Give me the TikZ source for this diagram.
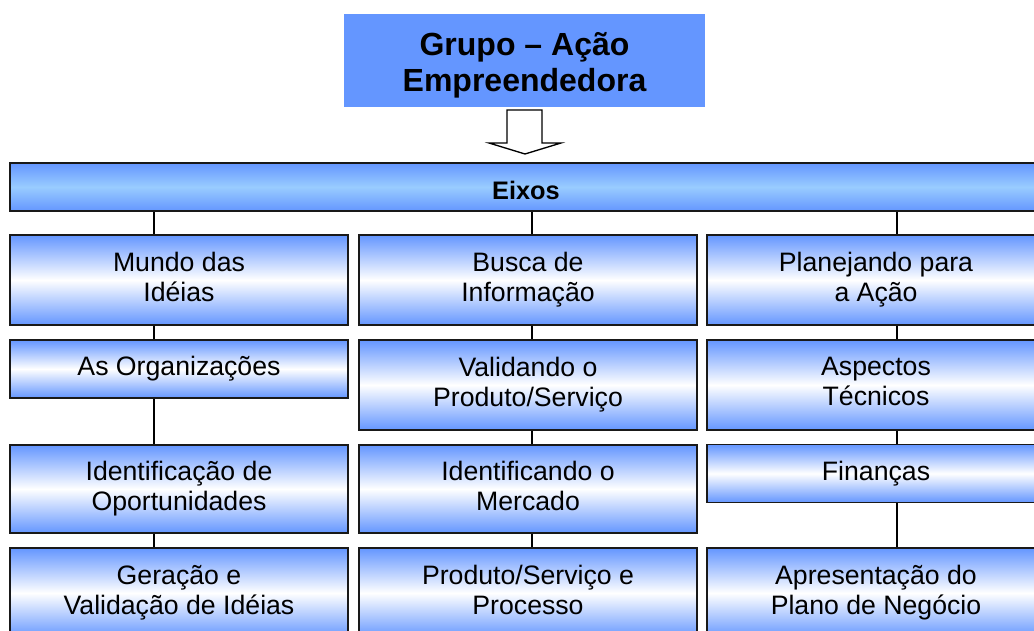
\documentclass[tikz,border=0pt]{standalone}
\usepackage{fontspec}
\setmainfont{Liberation Sans}
\definecolor{azul}{RGB}{100,150,255}
\definecolor{azulclaro}{RGB}{153,204,255}
\definecolor{borda}{RGB}{25,25,25}
\begin{document}
\begin{tikzpicture}[x=0.75pt, y=-0.75pt, line width=0.9pt,
  caixa/.style={draw=borda, line width=1.3pt, top color=azul, bottom color=azul, middle color=white,
    minimum width=253pt, minimum height=67.5pt, inner sep=0pt, align=center, text depth=5pt,
    font=\fontsize{20}{22.5}\selectfont},
  baixa/.style={minimum height=43.5pt, text depth=4pt}]
\useasboundingbox (0,0) rectangle (1034,631);
\clip (0,0) rectangle (1034,631);
% Nodos
\node [fill=azul, minimum width=270.75pt, minimum height=69.75pt, align=center, text height=51pt,
  font=\fontsize{24}{27}\selectfont\bfseries] (grupo) at (524.5,60.5) {Grupo – Ação\\Empreendedora};
\node [caixa, top color=azul, bottom color=azul, middle color=azulclaro, minimum width=774pt,
  minimum height=36pt, text height=18pt, text depth=0pt,
  font=\fontsize{19}{22}\selectfont\bfseries] (eixos) at (526,187) {Eixos};

\node [caixa] (A1) at (179,280) {Mundo das\\Idéias};
\node [caixa, baixa] (A2) at (179,369) {As Organizações};
\node [caixa, minimum height=66pt] (A3) at (179,489) {Identificação de\\Oportunidades};
\node [caixa] (A4) at (179,593) {Geração e\\Validação de Idéias};

\node [caixa] (B1) at (528,280) {Busca de\\Informação};
\node [caixa] (B2) at (528,385) {Validando o\\Produto/Serviço};
\node [caixa, minimum height=66pt] (B3) at (528,489) {Identificando o\\Mercado};
\node [caixa] (B4) at (528,593) {Produto/Serviço e\\Processo};

\node [caixa] (C1) at (876,280) {Planejando para\\a Ação};
\node [caixa] (C2) at (876,385) {Aspectos\\Técnicos};
\node [caixa, baixa] (C3) at (876,473.5) {Finanças};
\node [caixa] (C4) at (876,593) {Apresentação do\\Plano de Negócio};

% Seta
\draw [line width=1pt, fill=white] (507,110) -- (542,110) -- (542,143) -- (561,143)
  -- (525,154) -- (489,143) -- (507,143) -- cycle;

% Ejes
\coordinate (xa) at (154,0);
\coordinate (xb) at (532,0);
\coordinate (xc) at (897,0);
% ---
% A
% ---
\draw (eixos.south -| xa) -- (A1.north -| xa);
\draw (A1.south -| xa) -- (A2.north -| xa);
\draw (A2.south -| xa) -- (A3.north -| xa);
\draw (A3.south -| xa) -- (A4.north -| xa);
% ---
% B
% ---
\draw (eixos.south -| xb) -- (B1.north -| xb);
\draw (B1.south -| xb) -- (B2.north -| xb);
\draw (B2.south -| xb) -- (B3.north -| xb);
\draw (B3.south -| xb) -- (B4.north -| xb);
% ---
% C
% ---
\draw (eixos.south -| xc) -- (C1.north -| xc);
\draw (C1.south -| xc) -- (C2.north -| xc);
\draw (C2.south -| xc) -- (C3.north -| xc);
\draw (C3.south -| xc) -- (C4.north -| xc);
\end{tikzpicture}
\end{document}
